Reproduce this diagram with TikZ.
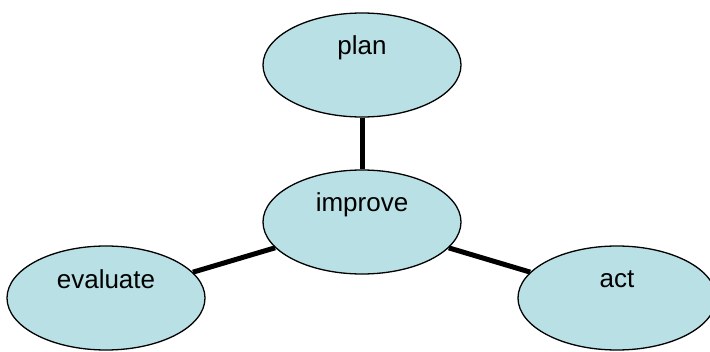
\documentclass[tikz,border=0pt]{standalone}
\usepackage{fontspec}
\setmainfont{Liberation Sans}
\usetikzlibrary{shapes.geometric}
\definecolor{blobfill}{RGB}{185,224,228}
\tikzset{
  blob/.style={ellipse, draw=black, line width=1.3pt, fill=blobfill,
    minimum width=198pt, minimum height=104pt, inner sep=0pt},
  lbl/.style={anchor=base, font=\fontsize{26}{26}\selectfont, inner sep=0pt},
  link/.style={line width=5pt}
}
\begin{document}
\begin{tikzpicture}[x=1pt,y=1pt]
\useasboundingbox (0,0) rectangle (710,351);
\clip (0,0) rectangle (710,351);
\node[blob] (plan) at (362,286) {};
\node[blob] (improve) at (362,129) {};
\node[blob] (evaluate) at (106,53) {};
\node[blob] (act) at (617,53) {};
\draw[link] (plan) -- (improve);
\draw[link] (improve) -- (evaluate);
\draw[link] (improve) -- (act);
\node[lbl] (plant) at ([yshift=10pt]plan.center) {plan};
\node[lbl] (improvet) at ([yshift=10pt]improve.center) {improve};
\node[lbl] (evaluatet) at ([yshift=9pt]evaluate.center) {evaluate};
\node[lbl] (actt) at ([yshift=10pt]act.center) {act};
\end{tikzpicture}
\end{document}
